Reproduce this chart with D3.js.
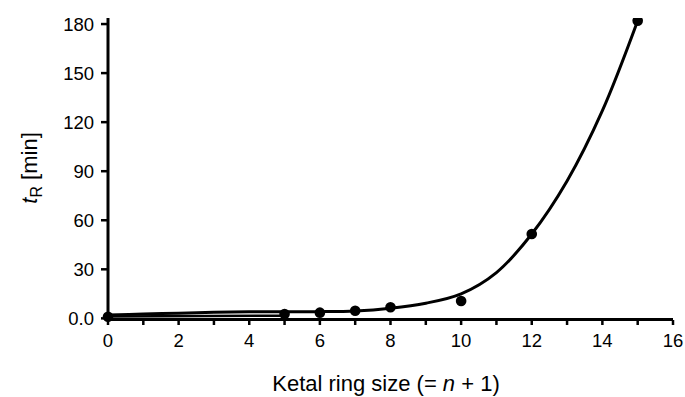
<!DOCTYPE html>
<html>
<head>
<meta charset="utf-8">
<script src="https://cdn.jsdelivr.net/npm/d3@7"></script>
<style>
  body { margin: 0; background: #fff; }
  text { font-family: "Liberation Sans", Arial, sans-serif; fill: #000; }
</style>
</head>
<body>
<svg id="chart" width="685" height="397"></svg>
<script>
// measured points
var ringSize = [0, 5, 6, 7, 8, 10, 12, 15];
var retention = [1.0, 2.7, 3.5, 4.7, 6.8, 10.6, 51.6, 182];

// fitted curve
var fitX = [0, 1, 2, 3, 4, 5, 6, 7, 8, 9, 10, 11, 12, 13, 14, 15];
var fitY = [2.0, 2.6, 3.2, 3.7, 4.0, 4.1, 4.1, 4.5, 6.2, 9.3, 15, 28, 51.6, 84, 127, 182];

// straight segment under the curve near the origin
var lowX = [0, 5];
var lowY = [1.2, 1.6];

var xTicks = [0, 2, 4, 6, 8, 10, 12, 14, 16];
var xMinor = [1, 3, 5, 7, 9, 11, 13, 15];
var yTicks = [0, 30, 60, 90, 120, 150, 180];

var svg = d3.select("#chart");

var x = d3.scaleLinear().domain([0, 16]).range([108, 673]);
var y = d3.scaleLinear().domain([-1, 183.7]).range([320, 18]);

svg.append("clipPath").attr("id", "plot")
  .append("rect").attr("x", 95).attr("y", 18).attr("width", 590).attr("height", 320);

var g = svg.append("g").attr("clip-path", "url(#plot)");

// curves
var line = d3.line().x(d => x(d[0])).y(d => y(d[1])).curve(d3.curveCatmullRom.alpha(0.5));

g.append("path")
  .datum(lowX.map((v, i) => [v, lowY[i]]))
  .attr("d", d3.line().x(d => x(d[0])).y(d => y(d[1])))
  .attr("fill", "none").attr("stroke", "#000").attr("stroke-width", 2.5);

g.append("path")
  .datum(fitX.map((v, i) => [v, fitY[i]]))
  .attr("d", line)
  .attr("fill", "none").attr("stroke", "#000").attr("stroke-width", 3);

g.selectAll("circle.pt")
  .data(ringSize)
  .enter().append("circle")
  .attr("class", "pt")
  .attr("cx", d => x(d))
  .attr("cy", (d, i) => y(retention[i]))
  .attr("r", 5.3)
  .attr("fill", "#000");

// axes
svg.append("line")
  .attr("x1", x(0)).attr("x2", x(16))
  .attr("y1", 319.5).attr("y2", 319.5)
  .attr("stroke", "#000").attr("stroke-width", 3);

svg.append("line")
  .attr("x1", x(0)).attr("x2", x(0))
  .attr("y1", 321).attr("y2", 18)
  .attr("stroke", "#000").attr("stroke-width", 3);

svg.selectAll("line.xt")
  .data(xTicks.concat(xMinor))
  .enter().append("line")
  .attr("class", "xt")
  .attr("x1", d => x(d)).attr("x2", d => x(d))
  .attr("y1", 320).attr("y2", 325)
  .attr("stroke", "#000").attr("stroke-width", 2.5);

svg.selectAll("text.xl")
  .data(xTicks)
  .enter().append("text")
  .attr("class", "xl")
  .attr("x", d => x(d))
  .attr("y", 347)
  .attr("text-anchor", "middle")
  .attr("font-size", 18.5)
  .text(d => d);

svg.selectAll("line.yt")
  .data(yTicks)
  .enter().append("line")
  .attr("class", "yt")
  .attr("x1", 101).attr("x2", x(0))
  .attr("y1", d => y(d)).attr("y2", d => y(d))
  .attr("stroke", "#000").attr("stroke-width", 2.5);

svg.selectAll("text.yl")
  .data(yTicks)
  .enter().append("text")
  .attr("class", "yl")
  .attr("x", 94)
  .attr("y", d => y(d) + 6.5)
  .attr("text-anchor", "end")
  .attr("font-size", 18.5)
  .text(d => d === 0 ? "0.0" : d);

// axis titles
var xt = svg.append("text")
  .attr("x", 386).attr("y", 391)
  .attr("text-anchor", "middle")
  .attr("font-size", 22);
xt.append("tspan").text("Ketal ring size (= ");
xt.append("tspan").attr("font-style", "italic").text("n");
xt.append("tspan").text(" + 1)");

var yt = svg.append("text")
  .attr("transform", "translate(37,168) rotate(-90)")
  .attr("text-anchor", "middle")
  .attr("font-size", 22);
yt.append("tspan").attr("font-style", "italic").text("t");
yt.append("tspan").attr("font-size", 16).attr("dy", 5).text("R");
yt.append("tspan").attr("dy", -5).text(" [min]");
</script>
</body>
</html>
